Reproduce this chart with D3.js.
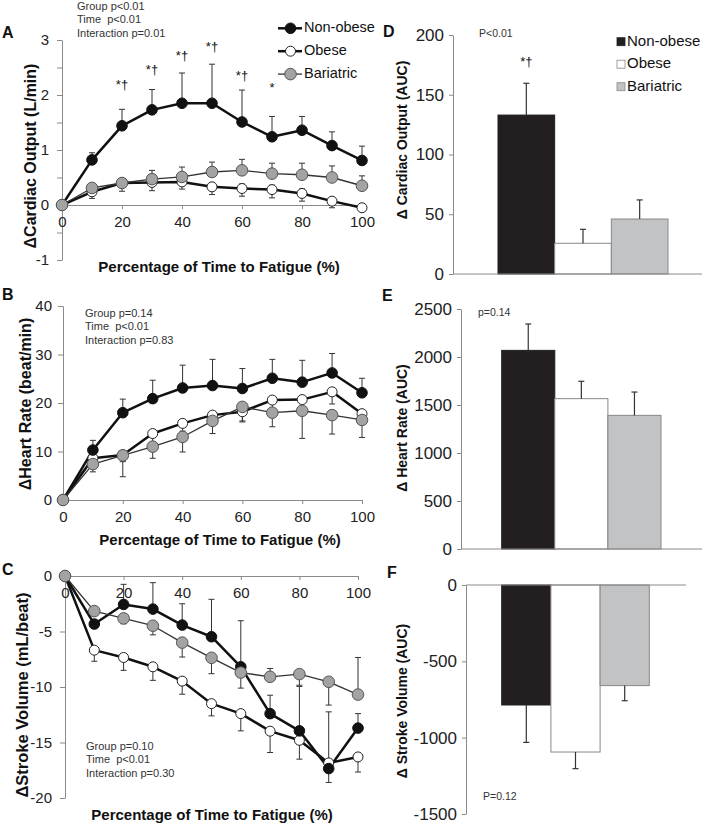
<!DOCTYPE html>
<html><head><meta charset="utf-8">
<script src="https://cdn.jsdelivr.net/npm/d3@7"></script>
<style>
body{margin:0;background:#fff}
svg{display:block}
text{font-family:'Liberation Sans',Arial,Helvetica,sans-serif}
</style>
</head><body>
<svg id="chart" width="711" height="825"></svg>
<script>
// ---------- DATA ----------
const pct = [0,10,20,30,40,50,60,70,80,90,100];
const xTickVals = [0,20,40,60,80,100];
const groups = ["Non-obese","Obese","Bariatric"];

// Panel A: delta cardiac output (L/min)
const coNon     = [0,0.82,1.44,1.73,1.85,1.85,1.51,1.24,1.36,1.08,0.81];
const coNonHi   = [0,0.13,0.30,0.37,0.55,0.71,0.58,0.37,0.25,0.25,0.26];
const coObese   = [0,0.24,0.40,0.41,0.42,0.33,0.30,0.28,0.21,0.07,-0.05];
const coObeseHi = [0,0.06,0.08,0.08,0.06,0.08,0.08,0.08,0.08,0.06,0];
const coObeseLo = [0,0.12,0.15,0.15,0.13,0.14,0.14,0.15,0.14,0.12,0];
const coBari    = [0,0.31,0.40,0.47,0.51,0.60,0.63,0.57,0.55,0.50,0.35];
const coBariHi  = [0,0.05,0.07,0.16,0.18,0.18,0.20,0.19,0.21,0.21,0.18];
const coStars   = [{p:20,t:"*†",v:2.18},{p:30,t:"*†",v:2.45},{p:40,t:"*†",v:2.69},{p:50,t:"*†",v:2.87},{p:60,t:"*†",v:2.33},{p:70,t:"*",v:2.11}];
const coStats   = ["Group p<0.01","Time  p<0.01","Interaction p=0.01"];
const coTicks   = [-1,-0.5,0,0.5,1,1.5,2,2.5,3];

// Panel B: delta heart rate (beat/min)
const hrNon     = [0,10.3,18.0,20.9,23.1,23.6,23.0,25.1,24.3,26.2,22.1];
const hrNonHi   = [0,2.0,2.8,3.8,4.7,5.4,4.1,3.9,4.5,4.0,3.0];
const hrObese   = [0,8.6,9.3,13.7,15.8,17.5,18.2,20.6,20.7,22.3,17.8];
const hrObeseLo = [0,1.2,1.4,1.8,1.6,1.5,1.9,2.0,2.2,2.5,2.0];
const hrBari    = [0,7.4,9.2,11.0,13.0,16.3,19.2,18.0,18.4,17.5,16.5];
const hrBariLo  = [0,1.6,4.4,2.4,3.1,2.6,3.1,2.9,5.7,3.9,3.6];
const hrStats   = ["Group p=0.14","Time  p<0.01","Interaction p=0.83"];
const hrTicks   = [0,10,20,30,40];

// Panel C: delta stroke volume (mL/beat)
const svNon     = [0,-4.33,-2.56,-2.98,-4.42,-5.47,-8.18,-12.4,-13.95,-17.35,-13.7];
const svNonHi   = [0,0,1.81,2.38,1.92,3.37,4.15,1.66,4.0,0,1.3];
const svNonLo   = [0,0,0,0,0,0,0,0,0,1.25,0];
const svObese   = [0,-6.68,-7.34,-8.18,-9.47,-11.5,-12.4,-13.98,-14.8,-16.84,-16.3];
const svObeseHi = [0,0,0,0,0,0,0,0,0,4.6,0];
const svObeseLo = [0,1.0,1.16,1.22,1.18,1.1,1.55,1.92,1.7,0,1.36];
const svBari    = [0,-3.16,-3.82,-4.48,-6.0,-7.37,-8.7,-9.08,-8.84,-9.53,-10.68];
const svBariHi  = [0,0,0,0,0,0,0,0.75,0,0,3.34];
const svBariLo  = [0,0.4,0.48,0.82,1.3,1.43,1.4,0,1.0,2.1,0];
const svStats   = ["Group p=0.10","Time  p<0.01","Interaction p=0.30"];
const svTicks   = [-20,-15,-10,-5,0];

// Panels D-F: AUC bars
const coAUC = [133,25.7,46];      const coAUCErr = [26.6,11.7,16];
const hrAUC = [2069,1566,1392];   const hrAUCErr = [275,181,243];
const svAUC = [-786,-1094,-659];  const svAUCErr = [245,109,99];
const coAUCTicks = [0,50,100,150,200];
const hrAUCTicks = [0,500,1000,1500,2000,2500];
const svAUCTicks = [-1500,-1000,-500,0];

// ---------- STYLE ----------
const style = {
  "Non-obese": {line:"#111", lw:2.5, fill:"#111", stroke:"#111", r:5.3, bar:"#231f20"},
  "Obese":     {line:"#111", lw:2.5, fill:"#fff", stroke:"#222", r:5,   bar:"#ffffff"},
  "Bariatric": {line:"#333", lw:1.3, fill:"#a3a3a3", stroke:"#555", r:5.8, bar:"#c2c3c5"}
};
const AX = "#8a8a8a", TXT = "#222";
const svg = d3.select("#chart");

function styleAxis(sel, fs){
  sel.select(".domain").attr("stroke",AX).attr("stroke-width",1);
  sel.selectAll(".tick line").attr("stroke",AX);
  sel.selectAll(".tick text").attr("fill",TXT).style("font-size",fs+"px").style("font-family","'Liberation Sans',Arial,sans-serif");
}

function linePanel(p){
  const g = svg.append("g");
  const x = d3.scaleLinear().domain([0,100]).range(p.xr);
  const y = d3.scaleLinear().domain(p.yd).range(p.yr);
  g.append("g").attr("transform",`translate(${p.xr[0]},0)`)
    .call(d3.axisLeft(y).tickValues(p.yt).tickFormat(p.yf||(d=>String(d))).tickSize(5).tickSizeOuter(0).tickPadding(p.yPad))
    .call(s=>styleAxis(s,15));
  g.append("g").attr("transform",`translate(0,${y(0)})`)
    .call(d3.axisBottom(x).tickValues(xTickVals).tickFormat(d=>String(d)).tickSize(4).tickSizeOuter(0).tickPadding(7))
    .call(s=>styleAxis(s,15));
  const order = ["Obese","Non-obese","Bariatric"];
  order.forEach(k=>{
    const s = p.series[k];
    pct.forEach((pc,i)=>{
      const v = s.v[i];
      [[s.hi,1],[s.lo,-1]].forEach(([arr,sg])=>{
        if(!arr || !arr[i]) return;
        const tip = v + sg*arr[i];
        g.append("line").attr("x1",x(pc)).attr("x2",x(pc)).attr("y1",y(v)).attr("y2",y(tip)).attr("stroke","#333").attr("stroke-width",1);
        g.append("line").attr("x1",x(pc)-3).attr("x2",x(pc)+3).attr("y1",y(tip)).attr("y2",y(tip)).attr("stroke","#333").attr("stroke-width",1);
      });
    });
  });
  const line = d3.line().x((d,i)=>x(pct[i])).y(d=>y(d));
  order.forEach(k=>{
    const st = style[k];
    g.append("path").attr("d",line(p.series[k].v)).attr("fill","none").attr("stroke",st.line).attr("stroke-width",st.lw).attr("stroke-linejoin","round");
  });
  order.forEach(k=>{
    const st = style[k];
    g.selectAll(null).data(p.series[k].v).join("circle")
      .attr("cx",(d,i)=>x(pct[i])).attr("cy",d=>y(d)).attr("r",st.r)
      .attr("fill",st.fill).attr("stroke",st.stroke).attr("stroke-width",1);
  });
  p.stats.forEach((t,i)=>{
    g.append("text").attr("x",p.statX).attr("y",p.statY+i*13.4).attr("font-size",11).attr("fill","#333").attr("dominant-baseline","middle").style("white-space","pre").text(t);
  });
  g.append("text").attr("transform",`translate(${p.titleX},${p.titleY}) rotate(-90)`).attr("text-anchor","middle")
    .attr("font-weight","bold").attr("font-size",p.titleFs).attr("fill","#111").text(p.title);
  g.append("text").attr("x",p.xtX).attr("y",p.xtY).attr("text-anchor","middle").attr("font-weight","bold").attr("font-size",15).attr("fill","#111")
    .text("Percentage of Time to Fatigue (%)");
  g.append("text").attr("x",p.letter[0]).attr("y",p.letter[1]).attr("font-weight","bold").attr("font-size",16).attr("fill","#111").text(p.letter[2]);
  return {g,x,y};
}

// ---- Panel A ----
const A = linePanel({
  xr:[62,362], yd:[-1,3], yr:[260,40], yt:coTicks, yf:d=>Number.isInteger(d)?String(d):"", yPad:8,
  series:{"Non-obese":{v:coNon,hi:coNonHi},"Obese":{v:coObese,hi:coObeseHi,lo:coObeseLo},"Bariatric":{v:coBari,hi:coBariHi}},
  stats:coStats, statX:77, statY:7,
  title:"ΔCardiac Output (L/min)", titleX:36, titleY:156, titleFs:16,
  xtX:219, xtY:272, letter:[2,38,"A"]
});
coStars.forEach(s=>{
  A.g.append("text").attr("x",A.x(s.p)).attr("y",A.y(s.v)).attr("text-anchor","middle").attr("dominant-baseline","middle")
   .attr("font-size",13).attr("fill","#111").text(s.t);
});
groups.forEach((k,i)=>{
  const st = style[k], yy = 28.3 + i*22.9;
  A.g.append("line").attr("x1",278).attr("x2",302).attr("y1",yy).attr("y2",yy).attr("stroke",st.line).attr("stroke-width",k==="Bariatric"?1.3:2.5);
  A.g.append("circle").attr("cx",290.5).attr("cy",yy).attr("r",st.r).attr("fill",st.fill).attr("stroke",st.stroke);
  A.g.append("text").attr("x",304).attr("y",yy).attr("dominant-baseline","middle").attr("font-size",14.5).attr("fill","#111").text(k);
});

// ---- Panel B ----
linePanel({
  xr:[63,362], yd:[0,40], yr:[500,306], yt:hrTicks, yPad:6,
  series:{"Non-obese":{v:hrNon,hi:hrNonHi},"Obese":{v:hrObese,lo:hrObeseLo},"Bariatric":{v:hrBari,lo:hrBariLo}},
  stats:hrStats, statX:85, statY:314,
  title:"ΔHeart Rate (beat/min)", titleX:31, titleY:404, titleFs:16,
  xtX:220, xtY:545, letter:[2,300,"B"]
});

// ---- Panel C ----
linePanel({
  xr:[65,358], yd:[-20,0], yr:[798,576], yt:svTicks, yPad:8,
  series:{"Non-obese":{v:svNon,hi:svNonHi,lo:svNonLo},"Obese":{v:svObese,hi:svObeseHi,lo:svObeseLo},"Bariatric":{v:svBari,hi:svBariHi,lo:svBariLo}},
  stats:svStats, statX:86, statY:747,
  title:"ΔStroke Volume (mL/beat)", titleX:28, titleY:695, titleFs:16.5,
  xtX:212, xtY:820, letter:[2,575,"C"]
});

// ---------- BAR PANELS ----------
function barPanel(p){
  const g = svg.append("g");
  const x = d3.scaleBand().domain(groups).range(p.br).paddingInner(0).paddingOuter(0);
  const y = d3.scaleLinear().domain(p.yd).range(p.yr);
  g.append("g").attr("transform",`translate(${p.ax},0)`)
    .call(d3.axisLeft(y).tickValues(p.yt).tickFormat(d=>String(d)).tickSize(4).tickSizeOuter(0).tickPadding(p.yPad))
    .call(s=>styleAxis(s,17));
  g.selectAll(null).data(groups).join("rect")
    .attr("x",d=>x(d)).attr("width",x.bandwidth())
    .attr("y",(d,i)=>Math.min(y(0),y(p.v[i]))).attr("height",(d,i)=>Math.abs(y(p.v[i])-y(0)))
    .attr("fill",d=>style[d].bar).attr("stroke",(d,i)=>i===0?"#231f20":"#888").attr("stroke-width",1);
  p.v.forEach((v,i)=>{
    const cx = x(groups[i])+x.bandwidth()/2, tip = v + Math.sign(v)*p.e[i];
    g.append("line").attr("x1",cx).attr("x2",cx).attr("y1",y(v)).attr("y2",y(tip)).attr("stroke","#333").attr("stroke-width",1.2);
    g.append("line").attr("x1",cx-3).attr("x2",cx+3).attr("y1",y(tip)).attr("y2",y(tip)).attr("stroke","#333").attr("stroke-width",1.2);
  });
  g.append("line").attr("x1",p.ax).attr("x2",p.axEnd).attr("y1",y(0)).attr("y2",y(0)).attr("stroke",AX).attr("stroke-width",1);
  g.append("text").attr("x",p.pX).attr("y",p.pY).attr("dominant-baseline","middle").attr("font-size",10.5).attr("fill","#333").text(p.ptext);
  g.append("text").attr("transform",`translate(${p.titleX},${p.titleY}) rotate(-90)`).attr("text-anchor","middle")
    .attr("font-weight","bold").attr("font-size",14).attr("fill","#111").text(p.title);
  g.append("text").attr("x",p.letter[0]).attr("y",p.letter[1]).attr("font-weight","bold").attr("font-size",16).attr("fill","#111").text(p.letter[2]);
  return {g,x,y};
}

const D = barPanel({
  br:[498,668], ax:453, axEnd:702, yd:[0,200], yr:[274,35], yt:coAUCTicks, yPad:5,
  v:coAUC, e:coAUCErr, ptext:"P<0.01", pX:479, pY:34,
  title:"Δ Cardiac Output (AUC)", titleX:407, titleY:140, letter:[383,37,"D"]
});
D.g.append("text").attr("x",D.x("Non-obese")+D.x.bandwidth()/2).attr("y",D.y(177)).attr("text-anchor","middle").attr("dominant-baseline","middle")
  .attr("font-size",13).attr("fill","#111").text("*†");
groups.forEach((k,i)=>{
  const yy = 41.7 + i*22.5;
  D.g.append("rect").attr("x",617).attr("y",yy-4).attr("width",8).attr("height",8).attr("fill",style[k].bar).attr("stroke",i===0?"#231f20":"#888").attr("stroke-width",0.8);
  D.g.append("text").attr("x",627).attr("y",yy).attr("dominant-baseline","middle").attr("font-size",15).attr("fill","#111").text(k);
});

barPanel({
  br:[501.7,661], ax:461, axEnd:702, yd:[0,2500], yr:[549,309], yt:hrAUCTicks, yPad:5,
  v:hrAUC, e:hrAUCErr, ptext:"p=0.14", pX:478, pY:313,
  title:"Δ Heart Rate (AUC)", titleX:407, titleY:428, letter:[382,301,"E"]
});

barPanel({
  br:[501.7,649.3], ax:466, axEnd:686, yd:[-1500,0], yr:[814,585], yt:svAUCTicks, yPad:5,
  v:svAUC, e:svAUCErr, ptext:"P=0.12", pX:483, pY:797,
  title:"Δ Stroke Volume (AUC)", titleX:407, titleY:701, letter:[387,578,"F"]
});
</script>
</body></html>
